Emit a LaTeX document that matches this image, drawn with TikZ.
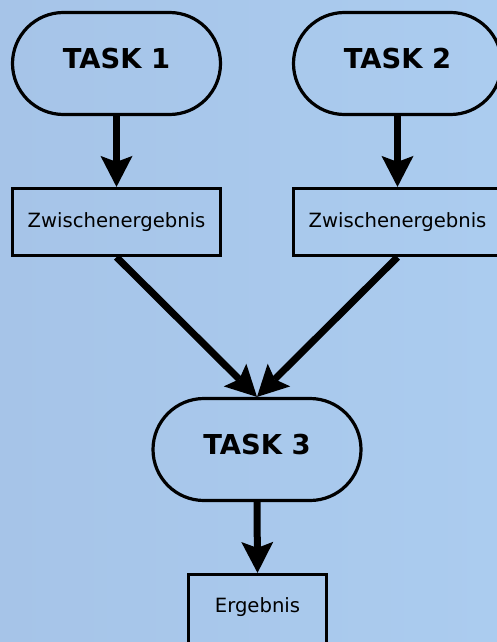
\documentclass[tikz,border=0pt]{standalone}
\usepackage{fontspec}
\setmainfont{DejaVu Sans}
\usetikzlibrary{arrows.meta}
\definecolor{bgleft}{HTML}{A6C4E8}
\definecolor{bgright}{HTML}{ABCCEF}
\begin{document}
\begin{tikzpicture}[x=1bp,y=-1bp,
  task/.style={draw=black, line width=3.2bp, rounded corners=51bp,
    minimum width=208bp, minimum height=102bp, inner sep=0pt,
    font=\fontsize{27.5}{32}\selectfont\bfseries,
    text height=20bp, text depth=10bp},
  result/.style={draw=black, line width=3.2bp, minimum height=67bp,
    inner sep=0pt, font=\fontsize{19.7}{23}\selectfont},
  flow/.style={line width=7bp,
    -{Stealth[length=31bp, width=32bp, inset=6bp, line width=0pt]}}
]
\useasboundingbox (0,0) rectangle (497,642);
\clip (0,0) rectangle (497,642);
\shade[left color=bgleft, right color=bgright] (0,0) rectangle (497,642);

\node[task] (t1) at (116.5,63.5) {TASK 1};
\node[task] (t2) at (397.5,63.5) {TASK 2};
\node[result, minimum width=208bp] (z1) at (116.5,222) {Zwischenergebnis};
\node[result, minimum width=208bp] (z2) at (397.5,222) {Zwischenergebnis};
\node[task] (t3) at (257,449.5) {TASK 3};
\node[result, minimum width=138bp, minimum height=80bp,
  text height=14.5bp, text depth=19.5bp] (e) at (257.5,614.5) {Ergebnis};

\draw[flow] (t1.south) -- (z1.north);
\draw[flow] (t2.south) -- (z2.north);
\draw[flow] (z1.south) -- (t3.north);
\draw[flow] (z2.south) -- (t3.north);
\draw[flow] (t3.south) -- (e.north);
\end{tikzpicture}
\end{document}
